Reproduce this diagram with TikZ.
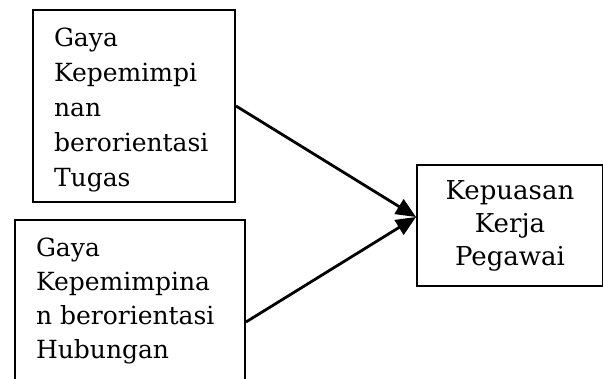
\documentclass[tikz,border=0pt]{standalone}
\usepackage{fontspec}
\setmainfont{DejaVu Serif}
\usetikzlibrary{arrows.meta,calc}
\newcommand\boxfont{\fontsize{25}{35}\selectfont}
\begin{document}
\begin{tikzpicture}[x=1pt,y=-1pt,
  box/.style={draw=black, line width=2pt, inner sep=0pt, anchor=north west},
  conn/.style={line width=2.8pt, -{Triangle[length=20pt,width=17pt]}}]
\useasboundingbox (0,0) rectangle (603,379);
\begin{scope}
\clip (0,0) rectangle (603,379);
\node[box] (b1) at (32,9) {\parbox[c][192pt][t]{202pt}{\boxfont\leftskip=21pt\vspace*{18pt}Gaya\\Kepemimpi\\nan\\berorientasi\\Tugas}};
\node[box] (b2) at (14,219) {\parbox[c][200pt][t]{230pt}{\fontsize{25}{34}\selectfont\leftskip=21pt\vspace*{18pt}Gaya\\Kepemimpina\\n berorientasi\\Hubungan}};
\node[box] (b3) at (416,164) {\parbox[c][121pt][c]{186pt}{\centering\fontsize{26}{33}\selectfont Kepuasan\\Kerja\\Pegawai}};
\end{scope}
\coordinate (t) at ($(b3.west)+(0,-8.5)$);
\coordinate (s1) at (b1.east);
\coordinate (s2) at ($(b2.north east)+(0,103)$);
\draw[conn] (s1) -- (t);
\draw[conn] (s2) -- (t);
\end{tikzpicture}
\end{document}
